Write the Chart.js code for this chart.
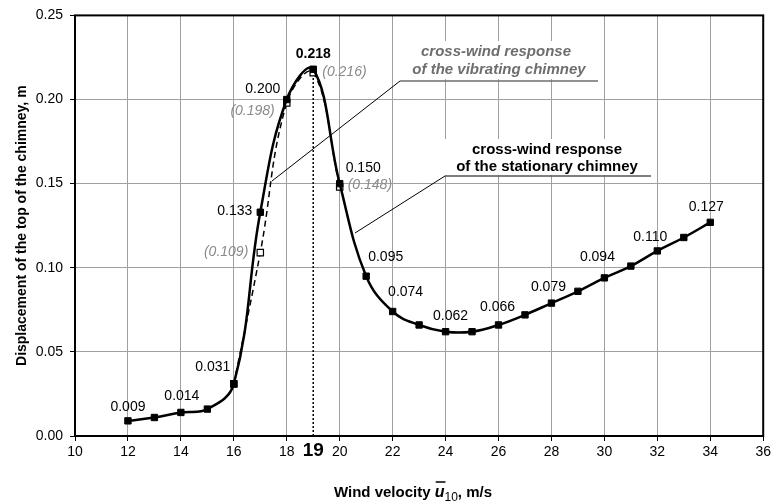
<!DOCTYPE html>
<html>
<head>
<meta charset="utf-8">
<script src="https://cdn.jsdelivr.net/npm/chart.js@4"></script>
<style>
  html, body { margin: 0; padding: 0; background: #fff; }
  #wrap { width: 774px; height: 504px; }
</style>
</head>
<body>
<div id="wrap"><canvas id="chart" width="774" height="504"></canvas></div>
<script>
// wind velocity (m/s) and displacement of chimney top (m)
const windSpeed = [12, 13, 14, 15, 16, 17, 18, 19, 20, 21, 22, 23, 24, 25, 26, 27, 28, 29, 30, 31, 32, 33, 34];
const stationary = [0.009, 0.011, 0.014, 0.016, 0.031, 0.133, 0.200, 0.218, 0.150, 0.095, 0.074, 0.066, 0.062, 0.062, 0.066, 0.072, 0.079, 0.086, 0.094, 0.101, 0.110, 0.118, 0.127];
const vibratingSpeed = [16, 17, 18, 19, 20];
const vibrating = [0.031, 0.109, 0.198, 0.216, 0.148];
const criticalX = [19, 19];
const criticalY = [0, 0.216];
const xTicks = [10, 12, 14, 16, 18, 20, 22, 24, 26, 28, 30, 32, 34, 36];
const yTicks = [0, 0.05, 0.10, 0.15, 0.20, 0.25];
const criticalTick = 19;
const stationaryLabelled = [12, 14, 16, 17, 18, 19, 20, 21, 22, 24, 26, 28, 30, 32, 34];
const vibratingLabelled = [17, 18, 19, 20];

const FONT = "'Liberation Sans', Arial, sans-serif";

// label placement relative to the point: dx, dy, align
const stationaryPlace = {
  12: [0, -14, 'center'], 14: [1, -16, 'center'], 16: [-21, -17, 'center'],
  17: [-8, -1, 'right'], 18: [-24, -10, 'center'], 19: [0, -15, 'center'],
  20: [6, -15, 'left'], 21: [2, -19, 'left'], 22: [13, -19, 'center'],
  24: [5, -16, 'center'], 26: [-1, -18, 'center'], 28: [-3, -16, 'center'],
  30: [-7, -21, 'center'], 32: [-7, -14, 'center'], 34: [-4, -15, 'center']
};
const vibratingPlace = {
  17: [-12, -1, 'right'], 18: [-12, 8, 'right'], 19: [9, 0, 'left'], 20: [8, -2, 'left']
};

function pts(xs, ys) {
  return xs.map((x, i) => ({ x: x, y: ys[i] }));
}

const overlay = {
  id: 'overlay',
  beforeDatasetsDraw(chart) {
    const ctx = chart.ctx;
    // white boxes behind annotation texts
    ctx.save();
    ctx.fillStyle = '#fff';
    ctx.fillRect(400, 41, 199, 38);
    ctx.fillRect(445, 139, 206, 36);
    ctx.restore();
  },
  afterDatasetsDraw(chart) {
    const ctx = chart.ctx;
    const xs = chart.scales.x, ys = chart.scales.y;
    const a = chart.chartArea;
    ctx.save();
    // frame
    ctx.strokeStyle = '#000';
    ctx.lineWidth = 2;
    ctx.strokeRect(a.left, a.top, a.right - a.left, a.bottom - a.top);

    // critical velocity tick label
    ctx.fillStyle = '#000';
    ctx.font = 'bold 19px ' + FONT;
    ctx.textAlign = 'center';
    ctx.textBaseline = 'middle';
    ctx.fillText(String(criticalTick), xs.getPixelForValue(criticalTick), a.bottom + 15);

    // point labels
    stationaryLabelled.forEach(x => {
      const v = stationary[windSpeed.indexOf(x)];
      const p = stationaryPlace[x];
      ctx.fillStyle = '#000';
      ctx.font = (x === 19 ? 'bold 14px ' : '14px ') + FONT;
      ctx.textAlign = p[2];
      ctx.fillText(v.toFixed(3), xs.getPixelForValue(x) + p[0], ys.getPixelForValue(v) + p[1]);
    });
    vibratingLabelled.forEach(x => {
      const v = vibrating[vibratingSpeed.indexOf(x)];
      const p = vibratingPlace[x];
      ctx.fillStyle = '#8a8a8a';
      ctx.font = 'italic 14px ' + FONT;
      ctx.textAlign = p[2];
      ctx.fillText('(' + v.toFixed(3) + ')', xs.getPixelForValue(x) + p[0], ys.getPixelForValue(v) + p[1]);
    });

    // annotation: vibrating chimney
    ctx.textAlign = 'center';
    ctx.fillStyle = '#6e6e6e';
    ctx.font = 'italic bold 15px ' + FONT;
    ctx.fillText('cross-wind response', 496, 52);
    ctx.fillText('of the vibrating chimney', 499, 70);
    ctx.strokeStyle = '#6e6e6e';
    ctx.lineWidth = 1.5;
    ctx.beginPath();
    ctx.moveTo(598, 81); ctx.lineTo(400, 81);
    ctx.stroke();
    ctx.strokeStyle = '#000';
    ctx.lineWidth = 1;
    ctx.beginPath();
    ctx.moveTo(400, 81); ctx.lineTo(272, 181);
    ctx.stroke();

    // annotation: stationary chimney
    ctx.fillStyle = '#000';
    ctx.font = 'bold 15px ' + FONT;
    ctx.fillText('cross-wind response', 547, 150);
    ctx.fillText('of the stationary chimney', 547, 167);
    ctx.strokeStyle = '#555';
    ctx.lineWidth = 1.5;
    ctx.beginPath();
    ctx.moveTo(651, 176); ctx.lineTo(445, 176);
    ctx.stroke();
    ctx.strokeStyle = '#000';
    ctx.lineWidth = 1;
    ctx.beginPath();
    ctx.moveTo(445, 176); ctx.lineTo(355, 233);
    ctx.stroke();

    // y axis title
    ctx.save();
    ctx.translate(22, (a.top + a.bottom) / 2);
    ctx.rotate(-Math.PI / 2);
    ctx.font = 'bold 14px ' + FONT;
    ctx.fillStyle = '#000';
    ctx.textAlign = 'center';
    ctx.fillText('Displacement of the top of the chimney, m', 0, 0);
    ctx.restore();

    // x axis title with overlined u and subscript 10
    const parts = [
      ['Wind velocity ', 'bold 15px ' + FONT, 0],
      ['u', 'italic bold 16px ' + FONT, 0],
      ['10', '12px ' + FONT, 4],
      [', m/s', 'bold 15px ' + FONT, 0]
    ];
    let total = 0;
    parts.forEach(p => { ctx.font = p[1]; total += ctx.measureText(p[0]).width; });
    let cx = 413 - total / 2;
    const baseY = 497;
    ctx.textAlign = 'left';
    ctx.textBaseline = 'alphabetic';
    parts.forEach((p, i) => {
      ctx.font = p[1];
      const w = ctx.measureText(p[0]).width;
      ctx.fillText(p[0], cx, baseY + p[2]);
      if (i === 1) {
        ctx.lineWidth = 1.5;
        ctx.beginPath();
        ctx.moveTo(cx + 1, baseY - 15); ctx.lineTo(cx + w + 1, baseY - 15);
        ctx.stroke();
      }
      cx += w;
    });
    ctx.restore();
  }
};

new Chart(document.getElementById('chart'), {
  type: 'line',
  data: {
    datasets: [
      {
        label: 'stationary chimney',
        data: pts(windSpeed, stationary),
        borderColor: '#000',
        borderWidth: 2.5,
        tension: 0.4,
        pointStyle: 'rect',
        pointRadius: 4.5,
        pointBorderWidth: 1,
        pointBackgroundColor: '#000',
        pointBorderColor: '#000'
      },
      {
        label: 'vibrating chimney',
        data: pts(vibratingSpeed, vibrating),
        borderColor: '#000',
        borderWidth: 1.5,
        borderDash: [6, 4],
        tension: 0.4,
        pointStyle: 'rect',
        pointRadius: 4.5,
        pointBorderWidth: 1.2,
        pointBackgroundColor: '#fff',
        pointBorderColor: '#000'
      },
      {
        label: 'critical velocity',
        data: pts(criticalX, criticalY),
        borderColor: '#000',
        borderWidth: 1.5,
        borderDash: [2, 2],
        pointRadius: 0
      }
    ]
  },
  options: {
    responsive: false,
    animation: false,
    layout: { padding: { top: 15, right: 9, left: 0, bottom: 0 } },
    plugins: { legend: { display: false }, tooltip: { enabled: false } },
    scales: {
      x: {
        type: 'linear',
        min: 10,
        max: 36,
        afterBuildTicks(scale) { scale.ticks = xTicks.map(v => ({ value: v })); },
        afterFit(scale) { scale.height = 68; },
        grid: { color: '#a0a0a0', tickColor: '#000', tickLength: 5 },
        border: { display: false },
        ticks: {
          padding: 3,
          color: '#000',
          maxRotation: 0,
          autoSkip: false,
          callback: v => String(v),
          font: { family: FONT, size: 14 }
        }
      },
      y: {
        min: 0,
        max: 0.25,
        afterBuildTicks(scale) { scale.ticks = yTicks.map(v => ({ value: v })); },
        afterFit(scale) { scale.width = 75; },
        grid: { color: '#a0a0a0', tickColor: '#000', tickLength: 5 },
        border: { display: false },
        ticks: {
          padding: 7,
          color: '#000',
          font: { family: FONT, size: 14 },
          callback: v => v.toFixed(2)
        }
      }
    }
  },
  plugins: [overlay]
});
</script>
</body>
</html>
